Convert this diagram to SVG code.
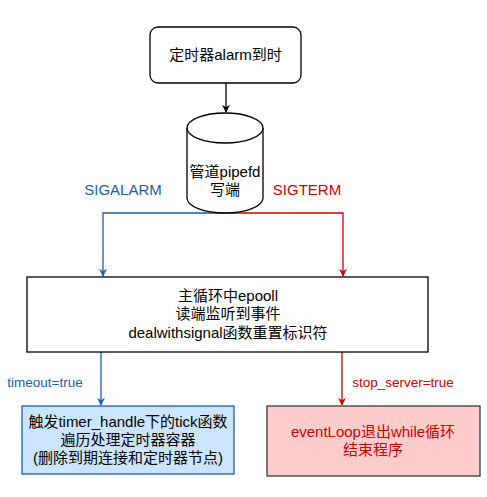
<svg xmlns="http://www.w3.org/2000/svg" width="487" height="497" viewBox="0 0 487 497">
<style>
text{font-family:"Liberation Sans","Noto Sans CJK SC",sans-serif;font-size:15px;text-anchor:middle}
.k{fill:#000}
.b{fill:#1a5ea8}
.r{fill:#cc0000}
.node{stroke:#000;stroke-width:1.3}
</style>
<defs>
<marker id="ak" viewBox="0 0 10 10" refX="9" refY="5" markerWidth="8" markerHeight="8" orient="auto" markerUnits="userSpaceOnUse"><path d="M0,0 L10,5 L0,10 L3,5 Z" fill="#000"/></marker>
<marker id="ab" viewBox="0 0 10 10" refX="9" refY="5" markerWidth="8" markerHeight="8" orient="auto" markerUnits="userSpaceOnUse"><path d="M0,0 L10,5 L0,10 L3,5 Z" fill="#1a5ea8"/></marker>
<marker id="ar" viewBox="0 0 10 10" refX="9" refY="5" markerWidth="8" markerHeight="8" orient="auto" markerUnits="userSpaceOnUse"><path d="M0,0 L10,5 L0,10 L3,5 Z" fill="#cc0000"/></marker>
</defs>
<rect width="487" height="497" fill="#fff"/>
<g id="connectors" fill="none" stroke-width="1.3">
<path d="M226,83 V112" stroke="#000" marker-end="url(#ak)"/>
<path d="M225,213 H103 V276" stroke="#1a5ea8" marker-end="url(#ab)"/>
<path d="M225,213 H343 V276" stroke="#cc0000" marker-end="url(#ar)"/>
<path d="M101,352 V405" stroke="#1a5ea8" marker-end="url(#ab)"/>
<path d="M342,352 V405" stroke="#cc0000" marker-end="url(#ar)"/>
<text class="b" x="123" y="195">SIGALARM</text>
<text class="r" x="307" y="195">SIGTERM</text>
<text class="b" x="45" y="387" style="font-size:13.5px">timeout=true</text>
<text class="r" x="403" y="387" style="font-size:13.5px">stop_server=true</text>
</g>
<g id="n1">
<rect class="node" x="150" y="27" width="151" height="56" rx="8" fill="#fff"/>
<text class="k" x="225.5" y="60">定时器alarm到时</text>
</g>
<g id="n2">
<path class="node" d="M187,128 A38,15 0 0 1 263,128 V198 A38,15 0 0 1 187,198 Z" fill="#fff"/>
<path class="node" d="M187,128 A38,15 0 0 0 263,128" fill="none"/>
<text class="k" x="225" y="177">管道pipefd</text>
<text class="k" x="225" y="195">写端</text>
</g>
<g id="n3">
<rect class="node" x="27" y="277" width="401" height="75" fill="#fff"/>
<text class="k" x="228" y="301">主循环中epooll</text>
<text class="k" x="228" y="319">读端监听到事件</text>
<text class="k" x="228" y="338">dealwithsignal函数重置标识符</text>
</g>
<g id="n4">
<rect x="22" y="406" width="212" height="68" fill="#cce5ff" stroke="#1a5ea8" stroke-width="1.3"/>
<text class="k" x="128" y="427">触发timer_handle下的tick函数</text>
<text class="k" x="128" y="445">遍历处理定时器容器</text>
<text class="k" x="128" y="463">(删除到期连接和定时器节点)</text>
</g>
<g id="n5">
<rect x="267" y="406" width="213" height="70" fill="#ffcccc" stroke="#36393d" stroke-width="1.3"/>
<text class="r" x="373" y="437">eventLoop退出while循环</text>
<text class="r" x="373" y="455">结束程序</text>
</g>
</svg>
